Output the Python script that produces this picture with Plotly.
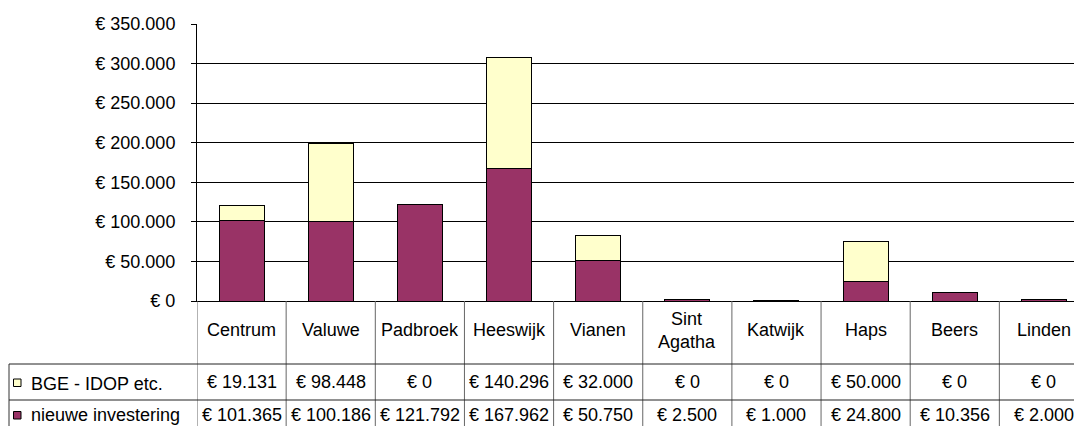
import plotly.graph_objects as go

categories = ["Centrum", "Valuwe", "Padbroek", "Heeswijk", "Vianen",
              "Sint<br>Agatha", "Katwijk", "Haps", "Beers", "Linden"]
bge_values = [19131, 98448, 0, 140296, 32000, 0, 0, 50000, 0, 0]
nieuwe_values = [101365, 100186, 121792, 167962, 50750, 2500, 1000, 24800, 10356, 2000]
series_names = ["BGE - IDOP etc.", "nieuwe investering"]
y_ticks = [0, 50000, 100000, 150000, 200000, 250000, 300000, 350000]

PURPLE = "#993366"
YELLOW = "#FFFFCC"
FONT = "Arial, Liberation Sans, sans-serif"
FS = 18

W, H = 1074, 426
L, T, B = 197, 24, 125
plot_h = H - T - B
plot_w = W - L
cat_px = 89.15
x_max = -0.5 + plot_w / cat_px


def eur(v):
    return "€ " + f"{v:,}".replace(",", ".")


def py(pix):  # pixel row -> paper y
    return (H - B - pix) / plot_h


def px(pix):  # pixel col -> paper x
    return (pix - L) / plot_w


xs = list(range(len(categories)))

fig = go.Figure()
fig.add_trace(go.Bar(x=xs, y=nieuwe_values, name=series_names[1],
                     marker=dict(color=PURPLE, line=dict(color="black", width=1))))
fig.add_trace(go.Bar(x=xs, y=bge_values, name=series_names[0],
                     marker=dict(color=YELLOW, line=dict(color="black", width=1))))

shapes = []
# vertical table lines at category boundaries
for i in range(len(categories) + 1):
    shapes.append(dict(type="line", xref="x", yref="paper", x0=i - 0.5, x1=i - 0.5,
                       y0=0, y1=py(H + 5), line=dict(color="#666666", width=1)))
# legend column left border
shapes.append(dict(type="line", xref="paper", yref="paper", x0=px(9), x1=px(9),
                   y0=py(364), y1=py(H + 5), line=dict(color="#333333", width=1)))
# horizontal table lines
for r in (364, 400):
    shapes.append(dict(type="line", xref="paper", yref="paper", x0=px(9), x1=1.05,
                       y0=py(r), y1=py(r), line=dict(color="#222222", width=1)))
# legend keys
for (top, col) in ((379, YELLOW), (411.5, PURPLE)):
    shapes.append(dict(type="rect", xref="paper", yref="paper", x0=px(13.5), x1=px(21),
                       y0=py(top), y1=py(top + 7.5), fillcolor=col,
                       line=dict(color="black", width=1)))

annotations = []
for i, c in enumerate(categories):
    annotations.append(dict(x=i, y=py(330), xref="x", yref="paper", text=c,
                            showarrow=False, xanchor="center", yanchor="middle",
                            font=dict(family=FONT, size=FS, color="black")))
    annotations.append(dict(x=i, y=py(382), xref="x", yref="paper", text=eur(bge_values[i]),
                            showarrow=False, xanchor="center", yanchor="middle",
                            font=dict(family=FONT, size=FS, color="black")))
    annotations.append(dict(x=i, y=py(415), xref="x", yref="paper", text=eur(nieuwe_values[i]),
                            showarrow=False, xanchor="center", yanchor="middle",
                            font=dict(family=FONT, size=FS, color="black")))
for name, yc in ((series_names[0], 384), (series_names[1], 415)):
    annotations.append(dict(x=px(29), y=py(yc), xref="paper", yref="paper", text=name,
                            showarrow=False, xanchor="left", yanchor="middle",
                            font=dict(family=FONT, size=FS, color="black")))

fig.update_layout(
    width=W, height=H,
    margin=dict(l=L, r=0, t=T, b=B, pad=0),
    barmode="stack", bargap=0.495,
    showlegend=False,
    plot_bgcolor="white", paper_bgcolor="white",
    separators=",.",
    font=dict(family=FONT, size=FS, color="black"),
    shapes=shapes, annotations=annotations,
    xaxis=dict(range=[-0.5, x_max], showticklabels=False, showgrid=False,
               zeroline=False, showline=True, linecolor="black", linewidth=1,
               ticks=""),
    yaxis=dict(range=[0, 350000], tickvals=y_ticks,
               ticktext=[eur(v) for v in y_ticks],
               showgrid=True, gridcolor="black", gridwidth=1,
               zeroline=False, showline=True, linecolor="black", linewidth=1,
               ticks="outside", ticklen=5, tickcolor="black", tickwidth=1,
               ticklabelstandoff=12,
               tickfont=dict(family=FONT, size=FS, color="black")),
)

fig.write_html("out.html",
               config={"displayModeBar": False},
               post_script="document.body.style.margin='0';"
                           "document.body.style.overflow='hidden';")
